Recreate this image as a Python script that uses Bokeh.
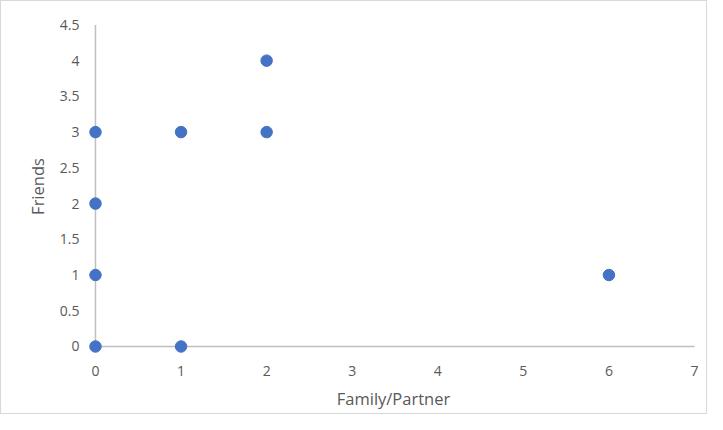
from bokeh.plotting import figure
from bokeh.models import Range1d, FixedTicker
from bokeh.embed import file_html
from bokeh.resources import INLINE

family_partner = [0, 0, 0, 0, 1, 1, 2, 2, 6]
friends = [0, 1, 2, 3, 0, 3, 3, 4, 1]
x_ticks = [0, 1, 2, 3, 4, 5, 6, 7]
y_ticks = [0, 0.5, 1, 1.5, 2, 2.5, 3, 3.5, 4, 4.5]

FONT = "Open Sans"
TXT = "#595959"

p = figure(width=707, height=414, output_backend="svg", toolbar_location=None,
           x_range=Range1d(-0.105, 7.07), y_range=Range1d(-0.126, 4.604),
           min_border_left=85, min_border_right=8, min_border_top=16, min_border_bottom=60)
p.styles = {"border": "1px solid #d9d9d9"}
p.outline_line_color = None
p.xgrid.visible = False
p.ygrid.visible = False

# axis lines drawn at data zero
p.segment(x0=[x_ticks[0]], y0=[0], x1=[x_ticks[-1]], y1=[0], line_color="#bfbfbf", line_width=1.5)
p.segment(x0=[0], y0=[y_ticks[0]], x1=[0], y1=[y_ticks[-1]], line_color="#bfbfbf", line_width=1.5)

p.scatter(family_partner, friends, size=11.5, fill_color="#4472C4", line_color="#4472C4")

for ax in (p.xaxis[0], p.yaxis[0]):
    ax.axis_line_color = None
    ax.major_tick_line_color = None
    ax.minor_tick_line_color = None
    ax.major_label_text_color = TXT
    ax.major_label_text_font = FONT
    ax.major_label_text_font_size = "14px"
    ax.axis_label_text_color = TXT
    ax.axis_label_text_font = FONT
    ax.axis_label_text_font_size = "16.5px"
    ax.axis_label_text_font_style = "normal"

p.xaxis.ticker = FixedTicker(ticks=x_ticks)
p.yaxis.ticker = FixedTicker(ticks=y_ticks)
p.xaxis.major_label_overrides = {t: str(t) for t in x_ticks}
p.yaxis.major_label_overrides = {t: ("%g" % t) for t in y_ticks}
p.xaxis.axis_label = "Family/Partner"
p.yaxis.axis_label = "Friends"
p.xaxis.major_label_standoff = 4
p.yaxis.major_label_standoff = 1
p.xaxis.axis_label_standoff = 8
p.yaxis.axis_label_standoff = 8

open("out.html", "w").write(file_html(p, INLINE))
